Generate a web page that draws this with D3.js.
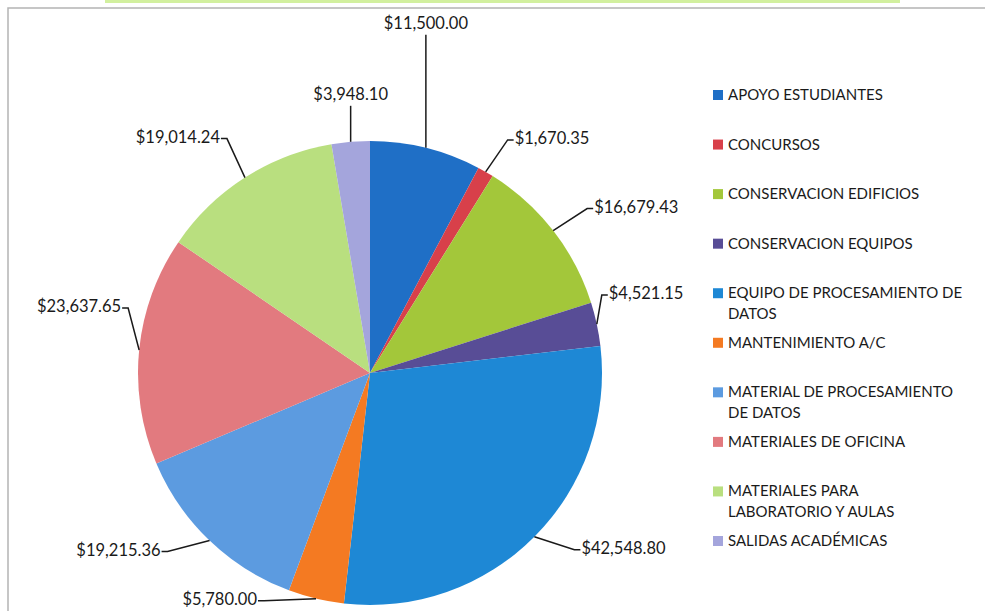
<!DOCTYPE html>
<html>
<head>
<meta charset="utf-8">
<script src="https://cdn.jsdelivr.net/npm/d3@7"></script>
<style>
  body { margin: 0; background: #fff; }
  svg text { font-family: Lato, "Open Sans", sans-serif; fill: #1a1a1a; }
</style>
</head>
<body>
<div id="graphic"></div>
<script>
// Data
var categories = ['APOYO ESTUDIANTES', 'CONCURSOS', 'CONSERVACION EDIFICIOS', 'CONSERVACION EQUIPOS',
    'EQUIPO DE PROCESAMIENTO DE DATOS', 'MANTENIMIENTO A/C', 'MATERIAL DE PROCESAMIENTO DE DATOS',
    'MATERIALES DE OFICINA', 'MATERIALES PARA LABORATORIO Y AULAS', 'SALIDAS ACADÉMICAS'];
var amounts = [11500.00, 1670.35, 16679.43, 4521.15, 42548.80, 5780.00, 19215.36, 23637.65, 19014.24, 3948.10];
var legendLines = [
    ['APOYO ESTUDIANTES'], ['CONCURSOS'], ['CONSERVACION EDIFICIOS'], ['CONSERVACION EQUIPOS'],
    ['EQUIPO DE PROCESAMIENTO DE', 'DATOS'], ['MANTENIMIENTO A/C'], ['MATERIAL DE PROCESAMIENTO', 'DE DATOS'],
    ['MATERIALES DE OFICINA'], ['MATERIALES PARA', 'LABORATORIO Y AULAS'], ['SALIDAS ACADÉMICAS']
];

var colors = ['#1f6fc6', '#d8404a', '#a3c73a', '#584d96', '#1e88d5', '#f47a22', '#5c9be0', '#e27a7f', '#b9df7f', '#a4a5dc'];

// leader elbow offsets from the slice edge (dx, dy), and label side
var elbows = [[0, -113], [22, -32], [34, -22], [5, -29], [40, 13], [-52, 2], [-42, 11], [-11, -42], [-18, -39], [0, -36]];
var sides = ['top', 'right', 'right', 'right', 'right', 'left', 'left', 'left', 'left', 'top'];

var width = 985, height = 611;
var cx = 370, cy = 373, radius = 232;

var svg = d3.select('#graphic').append('svg')
    .attr('width', width)
    .attr('height', height);

// scan frame
svg.append('rect').attr('x', 105).attr('y', 0).attr('width', 795).attr('height', 3)
    .attr('fill', '#d2f09f');
svg.append('path')
    .attr('d', 'M8,' + height + 'V8H' + width)
    .attr('fill', 'none')
    .attr('stroke', '#b4b4b4')
    .attr('stroke-width', 1.5);

var pie = d3.pie().sort(null).value(function(d) { return d; });
var arcs = pie(amounts);

var arc = d3.arc().innerRadius(0).outerRadius(radius);
var edgeArc = d3.arc().innerRadius(radius).outerRadius(radius);

var chart = svg.append('g').attr('transform', 'translate(' + cx + ',' + cy + ')');

chart.selectAll('path.slice')
    .data(arcs)
    .enter().append('path')
    .attr('class', 'slice')
    .attr('d', arc)
    .attr('fill', function(d, i) { return colors[i]; });

var fmt = d3.format(',.2f');

arcs.forEach(function(d, i) {
    var p = edgeArc.centroid(d);
    var e = [p[0] + elbows[i][0], p[1] + elbows[i][1]];
    var side = sides[i];
    var pts = [p, e];
    var tx, ty, anchor;
    if (side == 'right') {
        pts.push([e[0] + 6, e[1]]);
        tx = e[0] + 7; ty = e[1] + 4; anchor = 'start';
    } else if (side == 'left') {
        pts.push([e[0] - 6, e[1]]);
        tx = e[0] - 7; ty = e[1] + 4; anchor = 'end';
    } else {
        tx = e[0]; ty = e[1] - 6; anchor = 'middle';
    }
    chart.append('path')
        .attr('d', d3.line()(pts))
        .attr('fill', 'none')
        .attr('stroke', '#1a1a1a')
        .attr('stroke-width', 1.5);
    chart.append('text')
        .attr('x', tx)
        .attr('y', ty)
        .attr('text-anchor', anchor)
        .style('font-size', '16.5px')
        .text('$' + fmt(amounts[i]));
});

// legend
var legendY = d3.scaleLinear().domain([0, categories.length - 1]).range([95, 541]);

var legend = svg.append('g').attr('class', 'legend');
var items = legend.selectAll('g')
    .data(categories)
    .enter().append('g')
    .attr('transform', function(d, i) { return 'translate(713,' + legendY(i) + ')'; });

items.append('rect')
    .attr('x', 0).attr('y', -5)
    .attr('width', 10).attr('height', 10)
    .attr('fill', function(d, i) { return colors[i]; });

items.each(function(d, i) {
    var t = d3.select(this).append('text')
        .attr('x', 15)
        .attr('y', 5)
        .style('font-size', '15px');
    legendLines[i].forEach(function(line, j) {
        t.append('tspan').attr('x', 15).attr('dy', j == 0 ? 0 : 20.5).text(line);
    });
});
</script>
</body>
</html>
